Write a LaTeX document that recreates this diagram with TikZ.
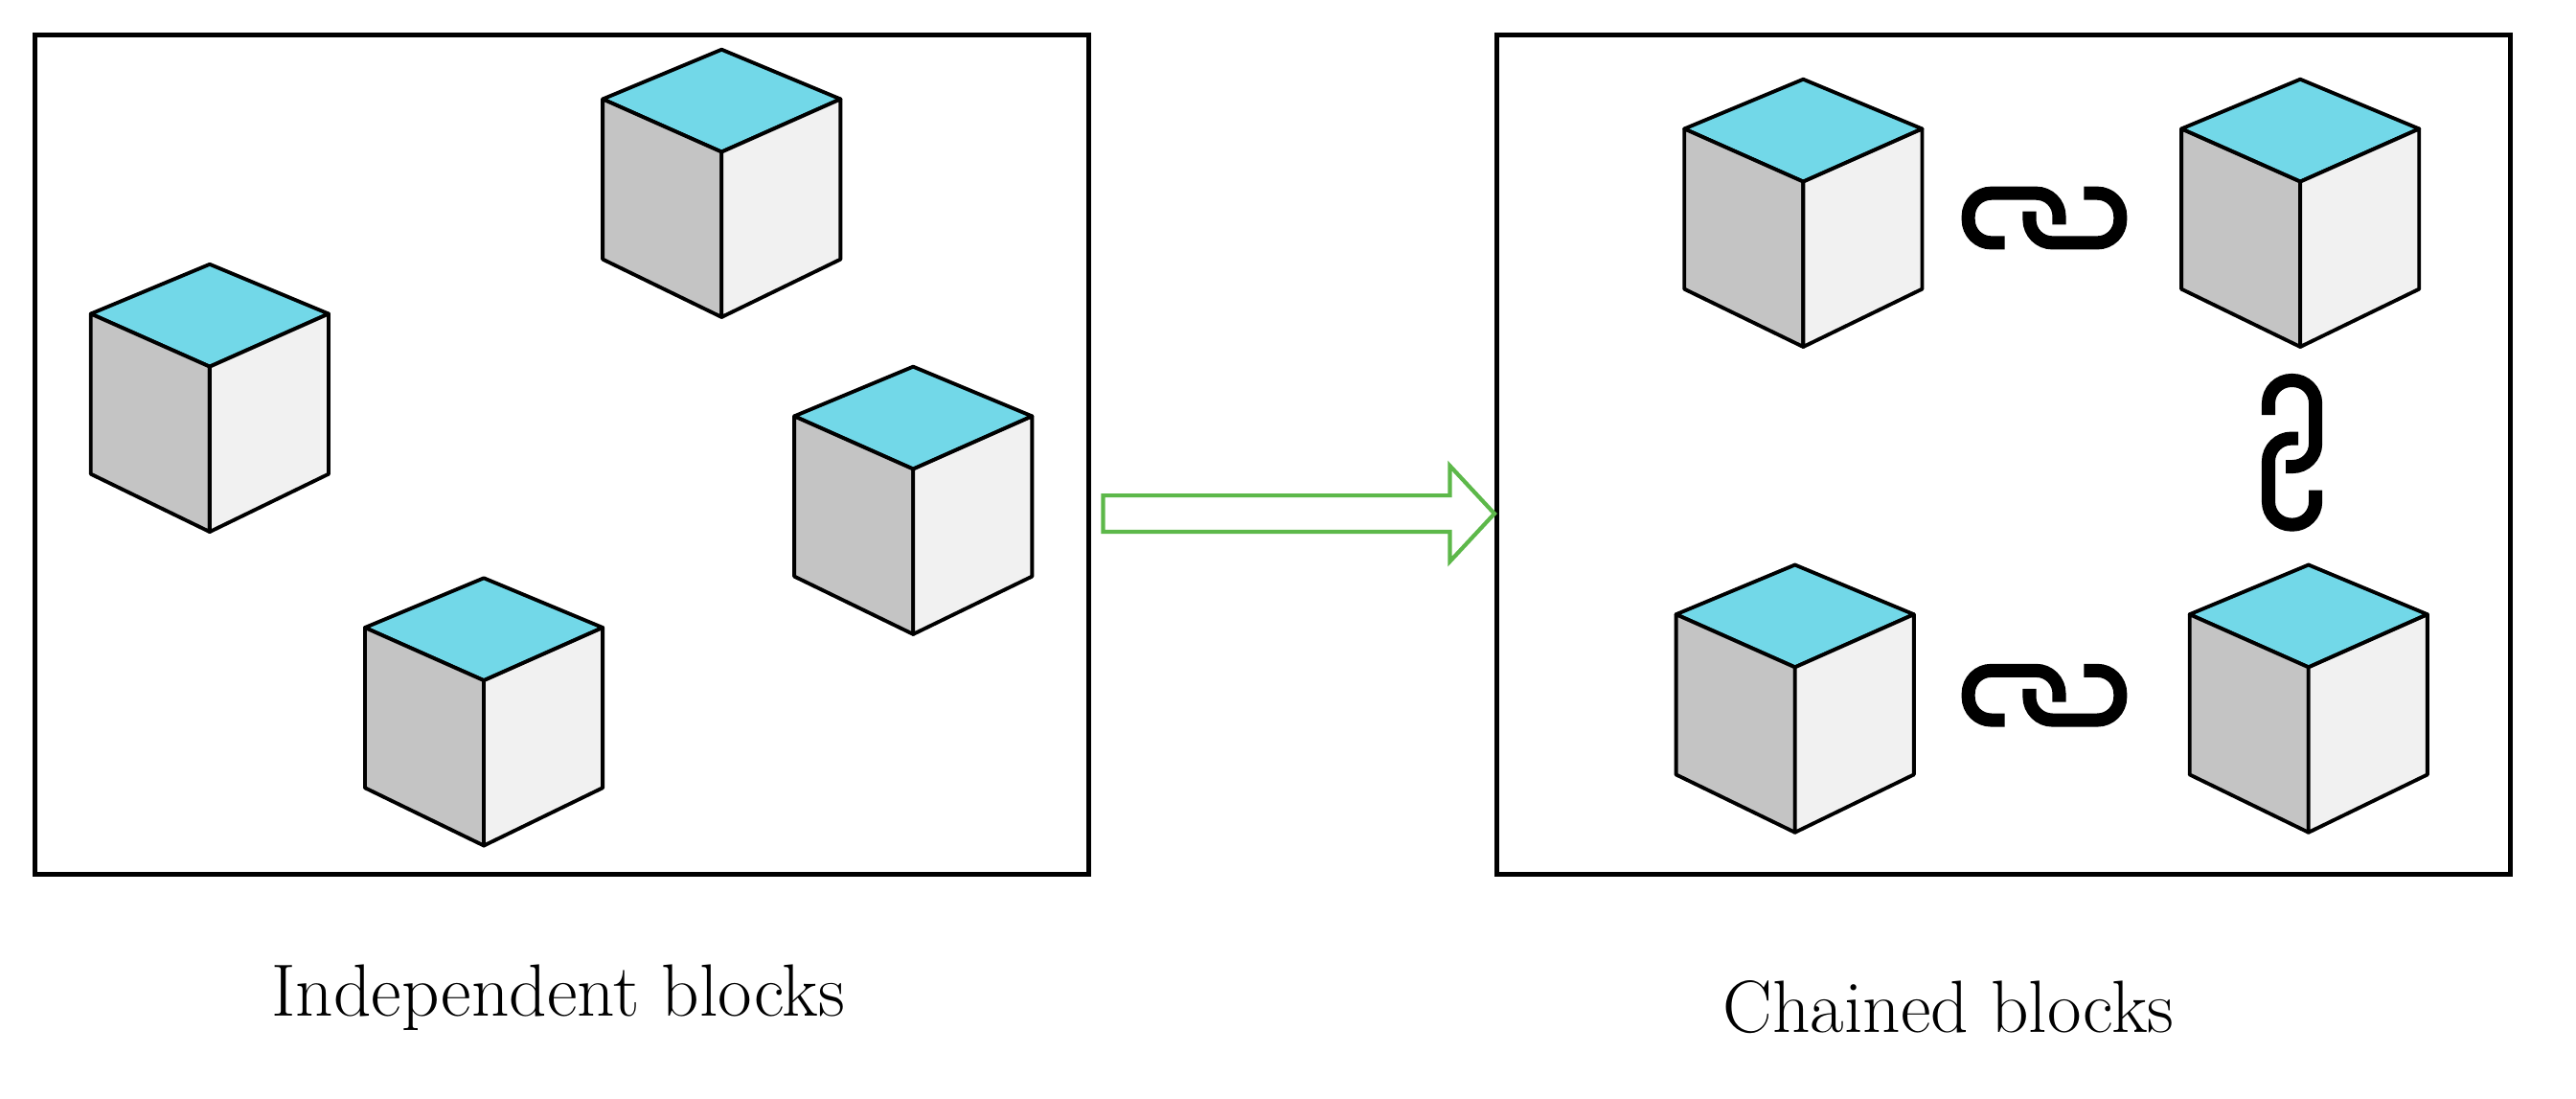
\documentclass[tikz,border=0pt]{standalone}
\definecolor{topc}{HTML}{72D8E8}
\definecolor{leftc}{HTML}{C4C4C4}
\definecolor{rightc}{HTML}{F1F1F1}
\definecolor{arrowc}{HTML}{5DB84A}
\tikzset{
  frame/.style={draw,line width=1.4pt},
  block/.pic={
    \filldraw[fill=topc,line width=1.1pt,line join=round] (0,0) -- (-72,30) -- (0,62) -- (72,30) -- cycle;
    \filldraw[fill=leftc,line width=1.1pt,line join=round] (-72,30) -- (0,62) -- (0,162) -- (-72,127) -- cycle;
    \filldraw[fill=rightc,line width=1.1pt,line join=round] (72,30) -- (0,62) -- (0,162) -- (72,127) -- cycle;
  },
  link/.pic={
    \draw[line width=4pt,rounded corners=0.24cm] (-24,15) -- (-46,15) -- (-46,-15) -- (9,-15) -- (9,4);
    \draw[line width=4pt,rounded corners=0.24cm] (24,-15) -- (46,-15) -- (46,15) -- (-9,15) -- (-9,-4);
  }
}
\begin{document}
\begin{tikzpicture}[x=0.01724cm,y=-0.01724cm]
\useasboundingbox (0,0) rectangle (1560,665);
% boxes
\node[frame,minimum width=638*0.01724cm,minimum height=508*0.01724cm,anchor=north west] (indep) at (20,20) {};
\node[frame,minimum width=614*0.01724cm,minimum height=508*0.01724cm,anchor=north west] (chain) at (905,20) {};
% independent blocks
\pic at (127,160) {block};
\pic at (437,30) {block};
\pic at (553,222) {block};
\pic at (293,350) {block};
% chained blocks
\pic at (1092,48) {block};
\pic at (1393,48) {block};
\pic at (1087,342) {block};
\pic at (1398,342) {block};
% links
\pic at (1238,132) {link};
\pic at (1238,421) {link};
\pic[rotate=90,scale=0.95] at (1388,274) {link};
% arrow
\draw[arrowc,line width=1.2pt,line join=miter] (668,300) -- (878,300) -- (878,282) -- (905,311)
  -- (878,340) -- (878,322) -- (668,322) -- cycle;
% labels
\node[font=\fontsize{22}{26}\selectfont] (lindep) at (338,604) {Independent blocks};
\node[font=\fontsize{22}{26}\selectfont] (lchain) at (1180,610) {Chained blocks};
\end{tikzpicture}
\end{document}
